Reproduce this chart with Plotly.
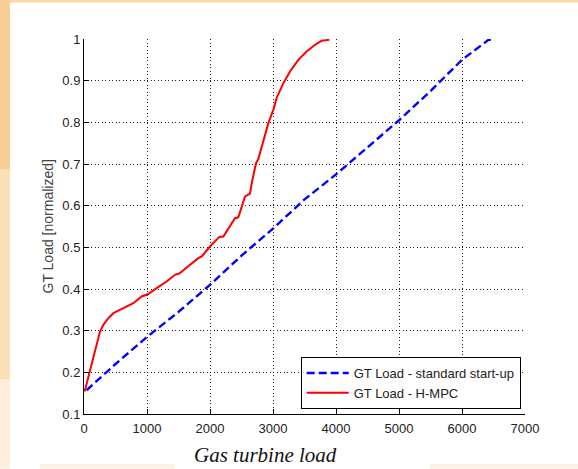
import plotly.graph_objects as go

# ---- data ----
std_x = [40, 500, 1000, 1500, 2000, 2500, 3000, 3500, 4000, 4500, 5000, 5500, 6000, 6420, 6500]
std_y = [0.157, 0.22, 0.285, 0.345, 0.41, 0.48, 0.545, 0.615, 0.675, 0.74, 0.805, 0.875, 0.95, 0.998, 0.998]

mpc_x = [10, 95, 175, 254, 307, 386, 466, 624, 783, 915, 1021, 1153, 1312, 1444, 1513, 1683,
         1815, 1868, 2000, 2148, 2212, 2397, 2450, 2556, 2635, 2662, 2730, 2767, 2846, 2926,
         3005, 3057, 3164, 3270, 3402, 3534, 3667, 3773, 3894]
mpc_y = [0.154, 0.206, 0.254, 0.298, 0.314, 0.330, 0.342, 0.354, 0.366, 0.382, 0.388, 0.402,
         0.418, 0.434, 0.437, 0.458, 0.474, 0.478, 0.502, 0.525, 0.526, 0.570, 0.572, 0.622,
         0.629, 0.654, 0.702, 0.712, 0.758, 0.798, 0.830, 0.858, 0.894, 0.922, 0.950, 0.970,
         0.986, 0.996, 0.998]

x_ticks = [0, 1000, 2000, 3000, 4000, 5000, 6000, 7000]
y_ticks = [0.1, 0.2, 0.3, 0.4, 0.5, 0.6, 0.7, 0.8, 0.9, 1.0]
y_tick_text = ["0.1", "0.2", "0.3", "0.4", "0.5", "0.6", "0.7", "0.8", "0.9", "1"]

W, H = 578, 469
L, R, T, B = 84, 525, 39.4, 414.3


def px(xp):
    return (xp - L) / (R - L)


def py(yp):
    return (B - yp) / (B - T)


fig = go.Figure()
fig.add_trace(go.Scatter(x=std_x, y=std_y, mode="lines", name="GT Load - standard start-up",
                         line=dict(color="#0000ff", width=2.4, dash="8px,4px")))
fig.add_trace(go.Scatter(x=mpc_x, y=mpc_y, mode="lines", name="GT Load - H-MPC",
                         line=dict(color="#ff0000", width=2)))

shapes = []
# background: orange slide edges + white panel
bands = [(0, 170, "#f9cf96"), (170, 380, "#fbdfb6"), (380, 469, "#fdefdc")]
for y0, y1, c in bands:
    shapes.append(dict(type="rect", xref="paper", yref="paper", layer="below",
                       x0=px(0), x1=px(10), y0=py(y1), y1=py(y0),
                       fillcolor=c, line=dict(width=0)))
shapes.append(dict(type="rect", xref="paper", yref="paper", layer="below",
                   x0=px(10), x1=px(578), y0=py(3), y1=py(0),
                   fillcolor="#fbd8a3", line=dict(width=0)))
shapes.append(dict(type="rect", xref="paper", yref="paper", layer="below",
                   x0=px(40), x1=px(175), y0=py(469), y1=py(464),
                   fillcolor="#fdf1e0", line=dict(width=0)))
shapes.append(dict(type="rect", xref="paper", yref="paper", layer="below",
                   x0=px(430), x1=px(578), y0=py(469), y1=py(464),
                   fillcolor="#fdf1e0", line=dict(width=0)))

fig.update_layout(
    width=W, height=H,
    margin=dict(l=L, r=W - R, t=T, b=H - B),
    paper_bgcolor="white", plot_bgcolor="white",
    font=dict(family="Liberation Sans, Arial, sans-serif", size=13, color="#222"),
    showlegend=True,
    legend=dict(x=px(300.7), y=py(409.3), xanchor="left", yanchor="bottom",
                bgcolor="white", bordercolor="black", borderwidth=1, itemwidth=42,
                font=dict(size=13, color="#222"), tracegroupgap=0),
    shapes=shapes,
    annotations=[
        dict(text="Gas turbine load", xref="paper", yref="paper", x=px(265.5), y=py(455),
             xanchor="center", yanchor="middle", showarrow=False,
             font=dict(family="Liberation Serif, Times New Roman, serif", size=21,
                       color="#111", style="italic")),
        dict(text="GT Load [normalized]", xref="paper", yref="paper", x=px(47), y=0.5,
             xanchor="center", yanchor="middle", showarrow=False, textangle=-90,
             font=dict(size=14, color="#444")),
    ],
)

fig.update_xaxes(range=[0, 7000], tickvals=x_ticks, ticks="inside", ticklen=5,
                 tickcolor="black", showline=True, linecolor="black", linewidth=1,
                 showgrid=True, gridcolor="#222", griddash="1px,2.5px", gridwidth=1,
                 zeroline=False, ticklabelstandoff=2)
fig.update_yaxes(range=[0.1, 1.0], tickvals=y_ticks, ticktext=y_tick_text, ticks="inside",
                 ticklen=5, tickcolor="black", showline=True, linecolor="black", linewidth=1,
                 showgrid=True, gridcolor="#222", griddash="1px,2.5px", gridwidth=1,
                 zeroline=False)

fig.write_html("out.html", config={"displayModeBar": False},
               post_script="document.body.style.margin='0px';")
